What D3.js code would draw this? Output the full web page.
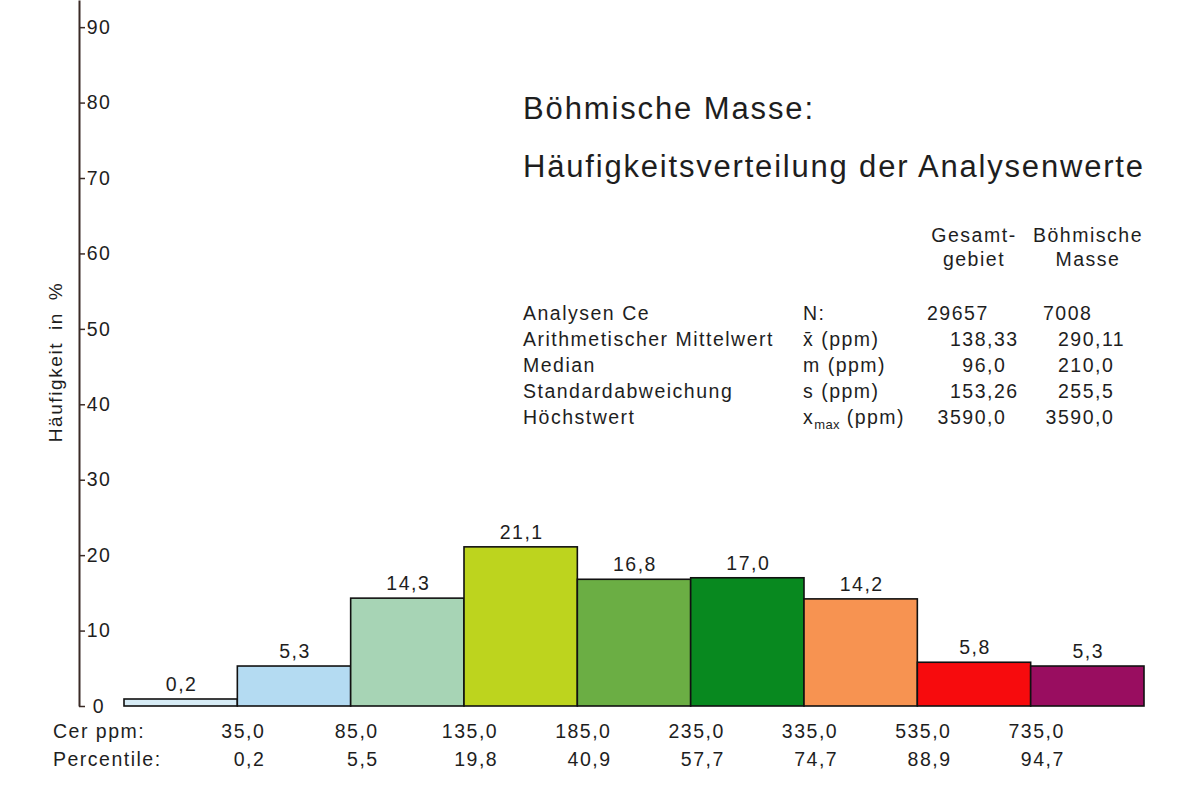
<!DOCTYPE html>
<html>
<head>
<meta charset="utf-8">
<script src="https://cdn.jsdelivr.net/npm/d3@7"></script>
<style>
  body { margin: 0; background: #fff; }
  svg text { font-family: "Liberation Sans", Arial, sans-serif; fill: #1e1e1e; }
</style>
</head>
<body>
<svg id="chart" width="1183" height="787"></svg>
<script>
// classes of Ce content (ppm) and their frequency in %
var classes = ["<35", "35-85", "85-135", "135-185", "185-235", "235-335", "335-535", "535-735", ">735"];
var frequency = [0.2, 5.3, 14.3, 21.1, 16.8, 17.0, 14.2, 5.8, 5.3];
var barColors = ["#d7ecf6", "#b4dbf2", "#a7d4b5", "#bdd41e", "#6bae44", "#08891f", "#f79351", "#f70b0d", "#990d60"];

// class limits shown under the bars
var cerPpm = ["35,0", "85,0", "135,0", "185,0", "235,0", "335,0", "535,0", "735,0"];
var percentile = ["0,2", "5,5", "19,8", "40,9", "57,7", "74,7", "88,9", "94,7"];

var yTicks = [0, 10, 20, 30, 40, 50, 60, 70, 80, 90];

// statistics table
var tableHeaders = [["Gesamt-", "gebiet"], ["Böhmische", "Masse"]];
var statLabels = ["Analysen Ce", "Arithmetischer Mittelwert", "Median", "Standardabweichung", "Höchstwert"];
var statSymbols = ["N:", "x\u0304 (ppm)", "m (ppm)", "s (ppm)", "x|max| (ppm)"];
var gesamtValues = ["29657", "138,33", "96,0", "153,26", "3590,0"];
var boehmValues = ["7008", "290,11", "210,0", "255,5", "3590,0"];

var titleLines = ["Böhmische Masse:", "Häufigkeitsverteilung der Analysenwerte"];

var FS = 19.5 + "px";   // body text size
var LS = "1.5px";       // tracking of the original lettering

var svg = d3.select("#chart");
var fmt = d3.formatLocale({decimal: ",", thousands: ".", grouping: [3], currency: ["", ""]}).format(".1f");

var x = d3.scaleBand().domain(classes).range([124, 1144]).padding(0);
var y = d3.scaleLinear().domain([0, 93.6]).range([706, 0]);

// y axis
var yAxis = svg.append("g")
    .attr("transform", "translate(79,0)")
    .call(d3.axisRight(y).tickValues(yTicks).tickSize(6).tickSizeOuter(0).tickPadding(2).tickFormat(d3.format("d")));
yAxis.select(".domain").attr("stroke", "#3a2b26").attr("stroke-width", 2);
yAxis.selectAll(".tick line").attr("stroke", "#3a2b26").attr("stroke-width", 1.5);
yAxis.selectAll(".tick text")
    .attr("x", 20)
    .attr("text-anchor", "middle")
    .attr("font-size", FS)
    .style("letter-spacing", LS)
    .attr("fill", "#1e1e1e");

svg.append("text")
    .attr("transform", "translate(62,362) rotate(-90)")
    .attr("text-anchor", "middle")
    .attr("font-size", 19 + "px")
    .style("letter-spacing", "1.6px")
    .style("word-spacing", "5px")
    .text("Häufigkeit in %");

// bars
svg.selectAll("rect.bar")
    .data(frequency)
    .enter().append("rect")
    .attr("class", "bar")
    .attr("x", function (d, i) { return x(classes[i]); })
    .attr("width", x.bandwidth())
    .attr("y", function (d) { return Math.min(y(d), y(0) - 7); })
    .attr("height", function (d) { return Math.max(y(0) - y(d), 7); })
    .attr("fill", function (d, i) { return barColors[i]; })
    .attr("stroke", "#111")
    .attr("stroke-width", 1.6);

svg.selectAll("text.value")
    .data(frequency)
    .enter().append("text")
    .attr("class", "value")
    .attr("x", function (d, i) { return x(classes[i]) + x.bandwidth() / 2 + 1; })
    .attr("y", function (d) { return Math.min(y(d), y(0) - 7) - 8; })
    .attr("text-anchor", "middle")
    .attr("font-size", FS)
    .style("letter-spacing", LS)
    .text(function (d) { return fmt(d); });

// class limits + percentiles
svg.append("text").attr("x", 53).attr("y", 738).attr("font-size", FS)
    .style("letter-spacing", LS).text("Cer ppm:");
svg.append("text").attr("x", 53).attr("y", 766).attr("font-size", FS)
    .style("letter-spacing", LS).text("Percentile:");

cerPpm.forEach(function (v, i) {
    var edge = x(classes[i + 1]);
    var t = svg.append("text")
        .attr("x", edge + 6)
        .attr("y", 738)
        .attr("text-anchor", "middle")
        .attr("font-size", FS)
        .style("letter-spacing", LS)
        .text(v);
    var right = edge + 6 + t.node().getComputedTextLength() / 2;
    svg.append("text")
        .attr("x", right)
        .attr("y", 766)
        .attr("text-anchor", "end")
        .attr("font-size", FS)
        .style("letter-spacing", LS)
        .text(percentile[i]);
});

// title
var titleLen = [290, 620];
titleLines.forEach(function (line, i) {
    svg.append("text")
        .attr("x", 523)
        .attr("y", 119 + i * 58)
        .attr("font-size", 31 + "px")
        .attr("textLength", titleLen[i])
        .attr("lengthAdjust", "spacing")
        .text(line);
});

// table
var headX = [974, 1088];
tableHeaders.forEach(function (h, c) {
    h.forEach(function (word, r) {
        svg.append("text")
            .attr("x", headX[c])
            .attr("y", 242 + r * 24)
            .attr("text-anchor", "middle")
            .attr("font-size", FS)
            .style("letter-spacing", LS)
            .text(word);
    });
});

var rowTop = 320, rowStep = 26;
statLabels.forEach(function (lab, r) {
    svg.append("text")
        .attr("x", 523)
        .attr("y", rowTop + r * rowStep)
        .attr("font-size", FS)
        .style("letter-spacing", LS)
        .text(lab);
    var sym = statSymbols[r].split("|");
    var st = svg.append("text")
        .attr("x", 803)
        .attr("y", rowTop + r * rowStep)
        .attr("font-size", FS)
        .style("letter-spacing", LS);
    st.append("tspan").text(sym[0]);
    if (sym.length > 1) {
        st.append("tspan").attr("dy", 5).attr("font-size", 13 + "px").style("letter-spacing", "0.3px").text(sym[1]);
        st.append("tspan").attr("dy", -5).text(sym[2]);
    }
});

// numbers: N row left aligned, others aligned on the decimal comma
var numStart = [927, 1043];
var commaX = [987, 1095];
[gesamtValues, boehmValues].forEach(function (vals, c) {
    vals.forEach(function (v, r) {
        var yy = rowTop + r * rowStep;
        if (v.indexOf(",") < 0) {
            svg.append("text").attr("x", numStart[c]).attr("y", yy)
                .attr("font-size", FS).style("letter-spacing", LS).text(v);
        } else {
            var parts = v.split(",");
            svg.append("text").attr("x", commaX[c]).attr("y", yy).attr("text-anchor", "end")
                .attr("font-size", FS).style("letter-spacing", LS).text(parts[0]);
            svg.append("text").attr("x", commaX[c]).attr("y", yy)
                .attr("font-size", FS).style("letter-spacing", LS).text("," + parts[1]);
        }
    });
});
</script>
</body>
</html>
